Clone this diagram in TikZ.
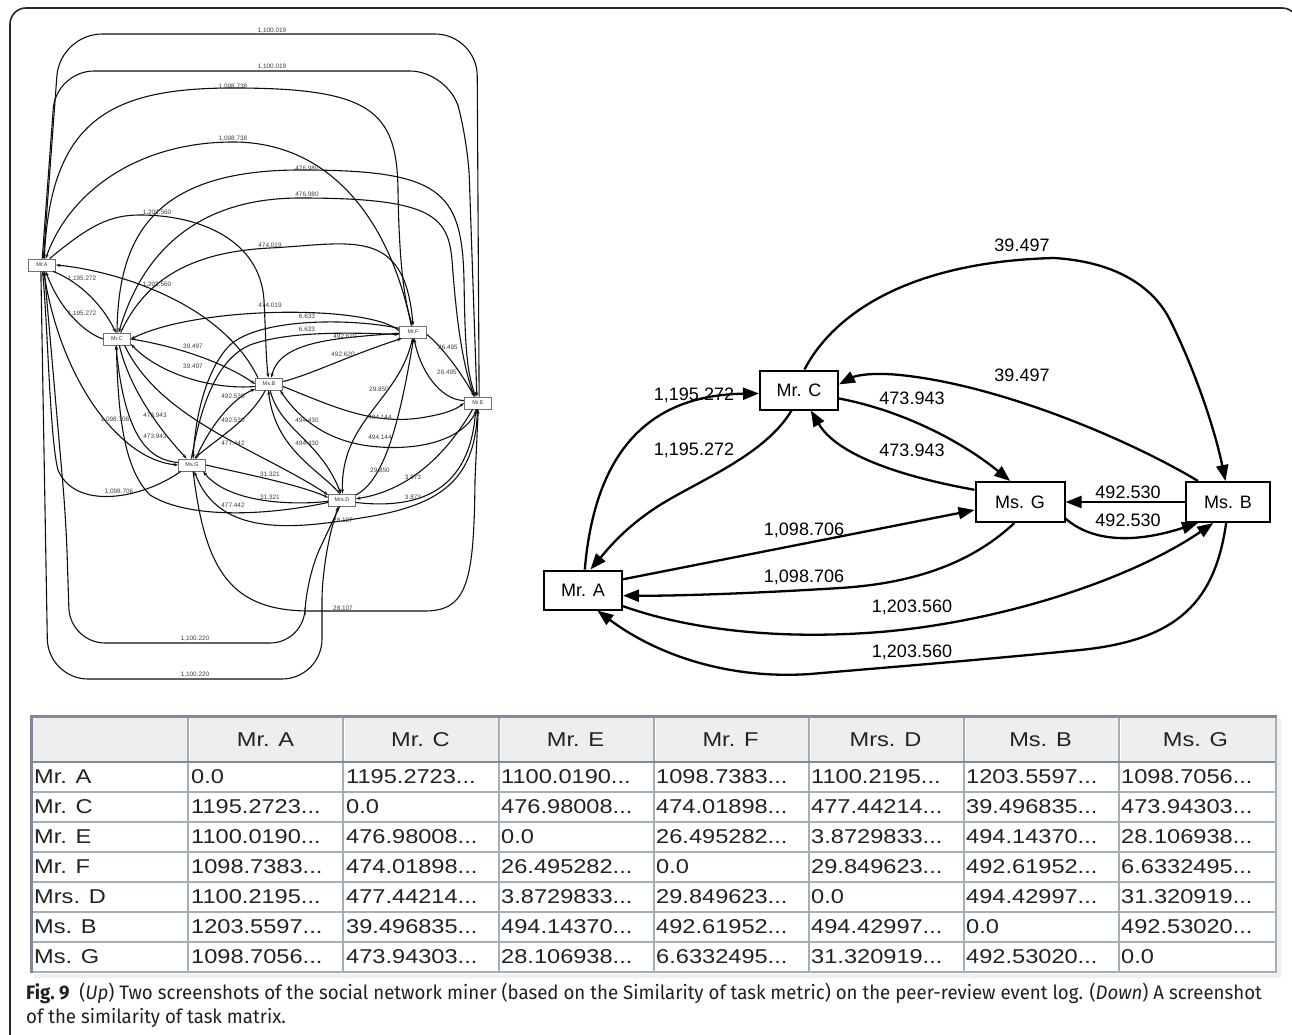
\documentclass[tikz,border=0pt]{standalone}
\usepackage{fontspec}
\setmainfont{Liberation Sans}
\newfontfamily\tabfont{Liberation Sans}[FakeStretch=1.18]
\newfontfamily\capfont{Fira Sans}[FakeStretch=0.957]
\usetikzlibrary{arrows.meta}
\definecolor{ink}{HTML}{101010}
\definecolor{lbox}{HTML}{707070}
\definecolor{tgrid}{HTML}{A3AEB9}
\definecolor{touter}{HTML}{7D8B99}
\definecolor{thead}{HTML}{EEEEEE}
\definecolor{ttext}{HTML}{222222}
\definecolor{capc}{HTML}{231F20}
\newcommand{\tdots}{...}
\tikzset{
  ln/.style={draw=lbox, fill=white, line width=0.8pt, minimum width=27pt, minimum height=12pt, inner sep=0pt, font=\fontsize{5.5}{6}\selectfont, text=black!80},
  le/.style={draw=ink, line width=1.1pt, -{Stealth[length=4.5pt,width=3.2pt]}},
  ll/.style={font=\fontsize{6.4}{6.5}\selectfont, inner sep=0pt, text=black!75},
  rn/.style={draw=black, line width=2pt, fill=white, minimum width=78pt, minimum height=39pt, inner sep=0pt, font=\fontsize{18}{20}\selectfont},
  ra/.style={draw=black, line width=2.3pt, -{Triangle[length=16pt,width=12pt]}},
  rl/.style={font=\fontsize{18}{20}\selectfont, inner sep=0pt},
  hd/.style={font=\tabfont\fontsize{20}{22}\selectfont, text=ttext, inner sep=0pt},
  td/.style={font=\tabfont\fontsize{20}{22}\selectfont, text=ttext, inner sep=0pt, anchor=west},
  captext/.style={font=\capfont\fontsize{19.5}{22}\selectfont, text=capc, inner sep=0pt, anchor=base west}
}
\begin{document}
\begin{tikzpicture}[x=1pt,y=-1pt]
\useasboundingbox (0,0) rectangle (1292,1035);
\clip (0,0) rectangle (1292,1035);
\fill[white] (0,0) rectangle (1292,1035);
% frame
\draw[line width=1.6pt, black!85, rounded corners=16pt] (10,1050) -- (10,8) -- (1298,8) -- (1298,60);

% ---------------- left graph ----------------
\node[ln] (A) at (42,265) {Mr.A};
\node[ln] (C) at (117,339) {Mr.C};
\node[ln] (F) at (413,332) {Mr.F};
\node[ln] (B) at (269,384) {Ms.B};
\node[ln] (E) at (478,403) {Mr.E};
\node[ln] (G) at (192,465) {Ms.G};
\node[ln] (D) at (342,500) {Mrs.D};

% A-E
\draw[le, rounded corners=42pt] (E.80) -- (477,34) -- (60,34) -- (A.78);
\draw[le, rounded corners=38pt] (A.88) -- (56,71) -- (448,71) -- (468,140) -- (E.100);
% A-F
\draw[le] (A.70) .. controls (50,120) and (110,88) .. (233,88) .. controls (370,88) and (397,110) .. (398,190) .. controls (399,260) and (404,300) .. (F.95);
\draw[le] (F.105) .. controls (390,220) and (330,142) .. (233,142) .. controls (140,142) and (70,190) .. (A.60);
% A-C
\draw[le] (A.-30) .. controls (75,280) and (100,300) .. (C.100);
\draw[le] (C.180) .. controls (85,333) and (60,310) .. (A.-60);
% A-B
\draw[le] (A.40) .. controls (90,225) and (110,215) .. (140,215) .. controls (200,215) and (260,240) .. (264,300) .. controls (266,340) and (266,360) .. (B.95);
\draw[le] (B.150) .. controls (220,300) and (110,270) .. (A.east);
% A-G
\draw[le] (A.-75) .. controls (60,380) and (120,460) .. (G.west);
\draw[le] (G.-150) .. controls (140,500) and (75,510) .. (58,470) .. controls (50,440) and (48,330) .. (A.-85);
% A-D
\draw[le, rounded corners=40pt] (A.-100) -- (48,679) -- (322,679) -- (322,560) -- (D.-120);
\draw[le, rounded corners=35pt] (D.-110) -- (305,580) -- (305,643) -- (70,643) -- (66,520) -- (A.-70);
% C-B
\draw[le] (C.east) .. controls (170,345) and (220,360) .. (B.west);
\draw[le] (B.-170) .. controls (215,390) and (160,375) .. (C.-20);
% C-G
\draw[le] (C.-70) .. controls (130,390) and (160,430) .. (G.130);
\draw[le] (G.170) .. controls (150,460) and (125,440) .. (C.-100);
% C-D
\draw[le] (C.-40) .. controls (160,420) and (260,450) .. (D.160);
\draw[le] (D.-170) .. controls (270,515) and (190,520) .. (150,495) .. controls (125,470) and (118,420) .. (C.-95);
% C-F
\draw[le] (C.60) .. controls (145,280) and (190,252) .. (270,248) .. controls (350,244) and (405,225) .. (F.north);
\draw[le] (F.175) .. controls (370,305) and (200,305) .. (C.east);
% C-E
\draw[le] (C.north) .. controls (118,240) and (150,170) .. (300,170) .. controls (440,170) and (462,190) .. (464,280) .. controls (465,340) and (466,370) .. (E.110);
\draw[le] (E.120) .. controls (460,360) and (455,300) .. (452,260) .. controls (448,215) and (430,198) .. (300,198) .. controls (190,198) and (140,260) .. (C.75);
% F-G
\draw[le] (F.165) .. controls (350,318) and (260,318) .. (230,345) .. controls (205,370) and (195,420) .. (G.80);
\draw[le] (G.95) .. controls (200,410) and (215,360) .. (250,345) .. controls (290,330) and (360,333) .. (F.-170);
% F-B
\draw[le] (F.-175) .. controls (340,338) and (280,340) .. (B.70);
\draw[le] (B.10) .. controls (310,375) and (350,355) .. (F.-150);
% F-E
\draw[le] (F.-10) .. controls (440,345) and (460,370) .. (E.120);
\draw[le] (E.170) .. controls (440,400) and (420,370) .. (F.-80);
% F-D
\draw[le] (F.-95) .. controls (400,400) and (340,420) .. (D.85);
\draw[le] (D.20) .. controls (385,480) and (400,420) .. (F.-85);
% B-E
\draw[le] (B.-10) .. controls (330,405) and (370,425) .. (420,418) .. controls (445,414) and (455,410) .. (E.180);
\draw[le] (E.-100) .. controls (465,440) and (420,450) .. (380,447) .. controls (330,444) and (300,420) .. (B.-30);
% B-D
\draw[le] (B.-80) .. controls (280,430) and (320,440) .. (D.100);
\draw[le] (D.110) .. controls (320,470) and (275,450) .. (B.-95);
% B-G
\draw[le] (G.60) .. controls (215,415) and (240,395) .. (B.-160);
\draw[le] (B.-120) .. controls (250,420) and (215,440) .. (G.70);
% G-D
\draw[le] (G.east) .. controls (250,475) and (300,485) .. (D.170);
\draw[le] (D.-175) .. controls (300,505) and (230,505) .. (G.-30);
% G-E
\draw[le] (E.-95) .. controls (476,480) and (440,505) .. (367,517) .. controls (300,528) and (220,540) .. (G.-70);
\draw[le] (G.-80) .. controls (205,570) and (230,611) .. (310,611) -- (425,611) .. controls (468,611) and (474,580) .. (475,480) -- (E.-88);
% E-D
\draw[le] (E.-130) .. controls (440,465) and (400,492) .. (D.5);
\draw[le] (D.-10) .. controls (420,510) and (470,490) .. (E.-110);

\foreach \x/\y/\t [count=\k] in {
 272/31/{1,100.019}, 272/67/{1,100.019}, 233/87/{1,098.738}, 233/139/{1,098.738},
 307/168/{476.980}, 307/194/{476.980}, 157/213/{1,203.560}, 270/245/{474.019},
 82/279/{1,195.272}, 157/285/{1,203.560}, 82/314/{1,195.272}, 270/305/{474.019},
 307/316/{6.633}, 307/329/{6.633}, 345/336/{492.620}, 448/347/{26.495},
 193/346/{39.497}, 193/366/{39.497}, 343/354/{492.620}, 447/372/{26.495},
 379/389/{29.850}, 233/396/{492.530}, 380/417/{494.144}, 115/420/{1,098.706},
 155/415/{473.943}, 233/420/{492.530}, 307/420/{494.430}, 155/436/{473.943},
 233/443/{477.442}, 380/437/{494.144}, 307/443/{494.430}, 380/470/{29.850},
 413/477/{3.873}, 270/474/{31.321}, 119/492/{1,098.706}, 270/497/{31.321},
 413/497/{3.873}, 233/505/{477.442}, 343/520/{28.107}, 343/608/{28.107},
 195/639/{1,100.220}, 195/675/{1,100.220}}
 {\node[ll] (lab\k) at (\x,\y) {\t};}

% ---------------- right graph ----------------
\node[rn] (rA) at (583,590) {Mr. A};
\node[rn] (rC) at (799,390) {Mr. C};
\node[rn, minimum width=89pt, minimum height=40pt] (rG) at (1020,502) {Ms. G};
\node[rn, minimum width=84pt, minimum height=40pt] (rB) at (1228,502) {Ms. B};

\draw[ra] (rC.75) .. controls (830,320) and (900,262) .. (1054,258) .. controls (1120,262) and (1155,290) .. (1170,320) .. controls (1195,370) and (1215,430) .. (rB.97);
\draw[ra] (rB.145) .. controls (1130,440) and (1000,385) .. (900,375) .. controls (870,372) and (855,376) .. (rC.8);
\draw[ra] (rA.85) .. controls (595,450) and (650,395) .. (rC.-175);
\draw[ra] (rC.-110) .. controls (765,455) and (700,480) .. (660,505) .. controls (625,527) and (607,550) .. (rA.70);
\draw[ra] (rC.-12) .. controls (900,410) and (960,440) .. (rG.115);
\draw[ra] (rG.165) .. controls (920,480) and (840,460) .. (rC.-60);
\draw[ra] (rB.west) -- (rG.east);
\draw[ra] (rG.-20) .. controls (1090,540) and (1130,545) .. (rB.-145);
\draw[ra] (rA.15) -- (rG.-170);
\draw[ra] (rG.-105) .. controls (975,560) and (920,583) .. (840,588) .. controls (760,593) and (680,596) .. (rA.-8);
\draw[ra] (rA.-22) .. controls (690,630) and (780,640) .. (880,632) .. controls (1000,622) and (1130,580) .. (rB.-125);
\draw[ra] (rB.-95) .. controls (1215,600) and (1180,640) .. (1080,650) .. controls (980,660) and (880,668) .. (810,674) .. controls (720,680) and (650,650) .. (rA.-55);

\node[rl] (q1) at (1022,245) {39.497};
\node[rl] (q2) at (1022,375) {39.497};
\node[rl] (q3) at (694,395) {1,195.272};
\node[rl] (q4) at (694,450) {1,195.272};
\node[rl] (q5) at (912,398) {473.943};
\node[rl] (q6) at (912,450) {473.943};
\node[rl] (q7) at (1128,492) {492.530};
\node[rl] (q8) at (1128,520) {492.530};
\node[rl] (q9) at (804,530) {1,098.706};
\node[rl] (q10) at (804,577) {1,098.706};
\node[rl] (q11) at (912,607) {1,203.560};
\node[rl] (q12) at (912,652) {1,203.560};

% ---------------- table ----------------
\fill[black!6] (1277,718) rectangle (1281,976);
\fill[black!6] (34,974) rectangle (1281,978);
\fill[thead] (32,718) rectangle (1275,762);
\foreach \cx in {188,343,499,654,809,964,1119}
  {\draw[tgrid, line width=1.6pt] (\cx,718) -- (\cx,972);
   \draw[white, line width=0.8pt] (\cx+1.6,720) -- (\cx+1.6,760);}
\foreach \k in {1,...,6}
  {\draw[tgrid, line width=1.3pt] (32,762+30*\k) -- (1275,762+30*\k);}
\draw[touter, line width=1.8pt] (32,762) -- (1275,762);
\draw[tgrid, line width=1.6pt] (32,972) -- (1276,972) -- (1276,716);
\draw[touter, line width=3pt] (31.5,973) -- (31.5,716.5) -- (1277,716.5);

\foreach \lab [count=\i] in {Mr. A,Mr. C,Mr. E,Mr. F,Mrs. D,Ms. B,Ms. G}
 {\node[hd] (h\i) at ({188+155*(\i-1)+77.5},740) {\lab};
  \node[td] (r\i) at (34,{747+30*\i}) {\lab};}

\foreach \rowvals [count=\i] in {
 {0.0,1195.2723\tdots,1100.0190\tdots,1098.7383\tdots,1100.2195\tdots,1203.5597\tdots,1098.7056\tdots},
 {1195.2723\tdots,0.0,476.98008\tdots,474.01898\tdots,477.44214\tdots,39.496835\tdots,473.94303\tdots},
 {1100.0190\tdots,476.98008\tdots,0.0,26.495282\tdots,3.8729833\tdots,494.14370\tdots,28.106938\tdots},
 {1098.7383\tdots,474.01898\tdots,26.495282\tdots,0.0,29.849623\tdots,492.61952\tdots,6.6332495\tdots},
 {1100.2195\tdots,477.44214\tdots,3.8729833\tdots,29.849623\tdots,0.0,494.42997\tdots,31.320919\tdots},
 {1203.5597\tdots,39.496835\tdots,494.14370\tdots,492.61952\tdots,494.42997\tdots,0.0,492.53020\tdots},
 {1098.7056\tdots,473.94303\tdots,28.106938\tdots,6.6332495\tdots,31.320919\tdots,492.53020\tdots,0.0}}
 {\foreach \v [count=\j] in \rowvals
   {\node[td] (v\i-\j) at ({191+155*(\j-1)},{747+30*\i}) {\v};}}

% ---------------- caption ----------------
\node[captext] (cap1) at (26,999) {\textbf{Fig.~9}\enspace (\textit{Up}) Two screenshots of the social network miner (based on the Similarity of task metric) on the peer-review event log. (\textit{Down}) A screenshot};
\node[captext] (cap2) at (26,1023) {of the similarity of task matrix.};
\end{tikzpicture}
\end{document}
